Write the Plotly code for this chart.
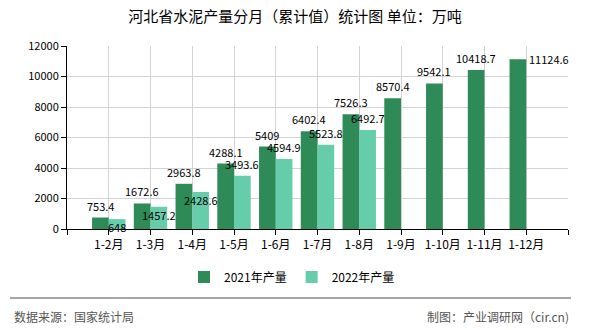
import plotly.graph_objects as go

categories = ["1-2月", "1-3月", "1-4月", "1-5月", "1-6月", "1-7月", "1-8月", "1-9月", "1-10月", "1-11月", "1-12月"]
values_2021 = [753.4, 1672.6, 2963.8, 4288.1, 5409, 6402.4, 7526.3, 8570.4, 9542.1, 10418.7, 11124.6]
values_2022 = [648, 1457.2, 2428.6, 3493.6, 4594.9, 5523.8, 6492.7, None, None, None, None]
labels_2021 = ["753.4", "1672.6", "2963.8", "4288.1", "5409", "6402.4", "7526.3", "8570.4", "9542.1", "10418.7", "11124.6"]
labels_2022 = ["648", "1457.2", "2428.6", "3493.6", "4594.9", "5523.8", "6492.7", "", "", "", ""]
y_ticks = [0, 2000, 4000, 6000, 8000, 10000, 12000]
y_tick_labels = ["0", "2000", "4000", "6000", "8000", "10000", "12000"]

DARK = "#2e8b57"
LIGHT = "#66cdaa"
FONT = "Noto Sans CJK SC"

xs = list(range(1, len(categories) + 1))
half = 0.2

fig = go.Figure()
fig.add_trace(go.Bar(x=xs, y=values_2021, name="2021年产量", marker=dict(color=DARK, line=dict(width=0))))
fig.add_trace(go.Bar(x=xs, y=values_2022, name="2022年产量", marker=dict(color=LIGHT, line=dict(width=0))))

lab_font = dict(family=FONT, size=11, color="#000")
n = len(xs)
for i, (x, v, t) in enumerate(zip(xs, values_2021, labels_2021)):
    if i == n - 1:
        fig.add_annotation(x=x, y=v, text=t, showarrow=False, xanchor="left", yanchor="middle",
                           xshift=1, font=lab_font)
    else:
        fig.add_annotation(x=x - half, y=v, text=t, showarrow=False, xanchor="center", yanchor="middle",
                           yshift=12, font=lab_font)
for i, (x, v, t) in enumerate(zip(xs, values_2022, labels_2022)):
    if v is None:
        continue
    fig.add_annotation(x=x + half, y=v, text=t, showarrow=False, xanchor="center", yanchor="middle",
                       yshift=(-8 if i < 3 else 12), font=lab_font)

tickvals = [0] + xs + [len(xs) + 1]
ticktext = [""] + categories + [""]

fig.update_layout(
    width=590, height=330,
    margin=dict(l=67, r=22, t=46, b=101),
    paper_bgcolor="white", plot_bgcolor="white",
    barmode="group", bargap=0.2, bargroupgap=0,
    font=dict(family=FONT, size=11, color="#000"),
    title=dict(text="河北省水泥产量分月（累计值）统计图 单位：万吨", x=0.5, xanchor="center",
               y=1 - 17 / 330, yanchor="middle", yref="container",
               font=dict(family=FONT, size=15, color="#000")),
    legend=dict(orientation="h", x=(292 - 67) / 501, xanchor="center",
                y=(229 - 277) / 183, yanchor="middle",
                font=dict(family=FONT, size=12, color="#000"),
                itemwidth=30, traceorder="normal"),
    xaxis=dict(range=[0, len(xs) + 1], tickmode="array", tickvals=tickvals, ticktext=ticktext,
               showgrid=True, gridcolor="#d3d3d3", gridwidth=1,
               showline=True, linecolor="#000", linewidth=1,
               ticks="outside", ticklen=5, tickcolor="#000",
               tickfont=dict(family=FONT, size=12, color="#000"), zeroline=False, fixedrange=True),
    yaxis=dict(range=[0, 12000], tickmode="array", tickvals=y_ticks, ticktext=y_tick_labels,
               showgrid=True, gridcolor="#d3d3d3", gridwidth=1,
               showline=True, linecolor="#000", linewidth=1,
               ticks="outside", ticklen=5, tickcolor="#000",
               tickfont=dict(family=FONT, size=11, color="#000"), zeroline=False, fixedrange=True),
    showlegend=True,
)

fig.add_shape(type="line", xref="paper", yref="paper",
              x0=(10 - 67) / 501, x1=(571 - 67) / 501,
              y0=(229 - 298) / 183, y1=(229 - 298) / 183,
              line=dict(color="#888888", width=1.5))
fig.add_annotation(text="数据来源：国家统计局", xref="paper", yref="paper",
                   x=(12 - 67) / 501, xanchor="left", y=(229 - 316) / 183, yanchor="middle",
                   showarrow=False, font=dict(family=FONT, size=12, color="#555"))
fig.add_annotation(text="制图：产业调研网（cir.cn)", xref="paper", yref="paper",
                   x=(571 - 67) / 501, xanchor="right", y=(229 - 316) / 183, yanchor="middle",
                   showarrow=False, font=dict(family=FONT, size=12, color="#555"))

fig.write_html("out.html")
